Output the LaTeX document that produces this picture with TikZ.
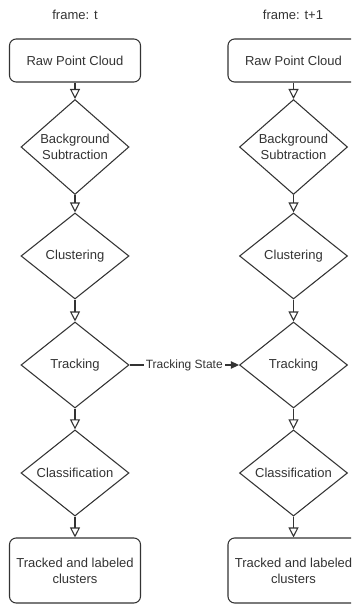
\documentclass[tikz,border=0pt]{standalone}
\usepackage{fontspec}
\setmainfont{Liberation Sans}
\usetikzlibrary{shapes.geometric,arrows.meta}

\begin{document}
\begin{tikzpicture}[x=0.75pt,y=-0.75pt,
  every node/.style={font=\fontsize{9.75}{12}\selectfont, text=black!80},
  endbox/.style={draw=black!80, line width=0.8pt, rounded corners=5pt, minimum width=98.25pt, align=center},
  decision/.style={draw=black!80, line width=0.8pt, diamond, minimum width=81pt, minimum height=64.5pt, inner sep=0pt, align=center},
  flow/.style={draw=black!80, line width=0.8pt, -{Triangle[open,width=7.5pt,length=7.5pt]}},
  pass/.style={draw=black!80, line width=0.8pt, -{Triangle[width=5.5pt,length=6pt]}}]
\path[use as bounding box] (0,0) rectangle (351,605);
\clip (0,0) rectangle (351,605);
\node (frameL) at (75,15) {frame: t};
\node (frameR) at (293,15) {frame: t+1};
\node[endbox, minimum height=32.25pt] (rawL) at (75,60.5) {Raw Point Cloud};
\node[decision] (bgL) at (75,147) {Background\\Subtraction};
\node[decision] (clusL) at (75,256) {Clustering};
\node[decision] (trackL) at (75,365) {Tracking};
\node[decision] (classL) at (75,473) {Classification};
\node[endbox, minimum height=48.75pt] (outL) at (75,570.5) {Tracked and labeled\\clusters};
\node[endbox, minimum height=32.25pt] (rawR) at (293.5,60.5) {Raw Point Cloud};
\node[decision] (bgR) at (293.5,147) {Background\\Subtraction};
\node[decision] (clusR) at (293.5,256) {Clustering};
\node[decision] (trackR) at (293.5,365) {Tracking};
\node[decision] (classR) at (293.5,473) {Classification};
\node[endbox, minimum height=48.75pt] (outR) at (293.5,570.5) {Tracked and labeled\\clusters};
\draw[flow] (rawL.south) -- (bgL.north);
\draw[flow] (bgL.south) -- (clusL.north);
\draw[flow] (clusL.south) -- (trackL.north);
\draw[flow] (trackL.south) -- (classL.north);
\draw[flow] (classL.south) -- (outL.north);
\draw[flow] (rawR.south) -- (bgR.north);
\draw[flow] (bgR.south) -- (clusR.north);
\draw[flow] (clusR.south) -- (trackR.north);
\draw[flow] (trackR.south) -- (classR.north);
\draw[flow] (classR.south) -- (outR.north);
\draw[pass] (trackL.east) -- node[fill=white, inner sep=1.5pt, font=\fontsize{9}{10}\selectfont] (state) {Tracking State} (trackR.west);
\end{tikzpicture}
\end{document}
